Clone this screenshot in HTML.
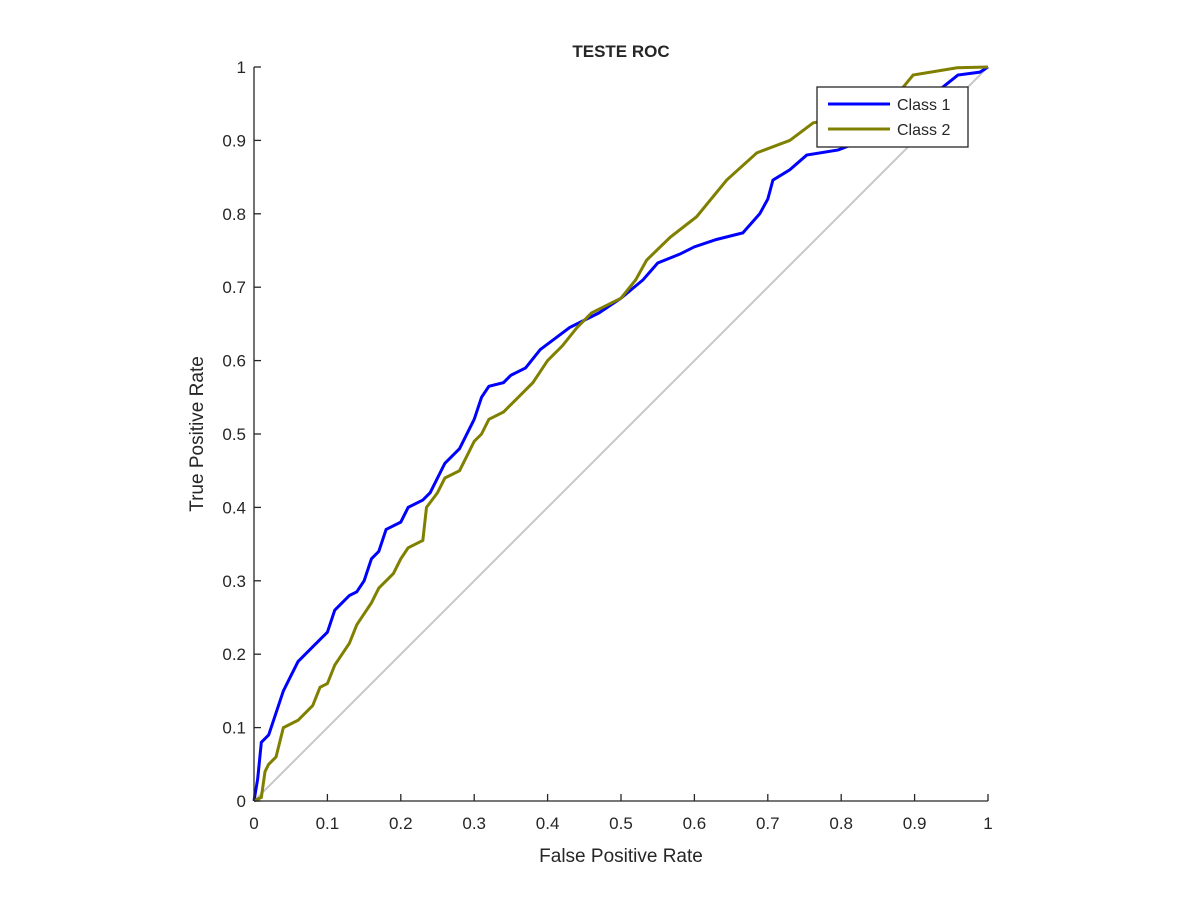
<!DOCTYPE html>
<html><head><meta charset="utf-8"><style>
body{margin:0;background:#fff}
svg text{font-family:"Liberation Sans",Arial,sans-serif;fill:#262626}
</style></head><body>
<svg width="1200" height="900">
<g id="plot"></g>
<text x="621" y="57" font-size="17" font-weight="bold" text-anchor="middle">TESTE ROC</text>
<text x="621" y="862" font-size="19" text-anchor="middle">False Positive Rate</text>
<text x="0" y="0" font-size="19" text-anchor="middle" transform="translate(203,434) rotate(-90)">True Positive Rate</text>
<g>
<rect x="817" y="87" width="151" height="60" fill="#fff" stroke="#262626" stroke-width="1.3"></rect>
<line x1="828" y1="104" x2="890" y2="104" stroke="#0000ff" stroke-width="3"></line>
<text x="897" y="110" font-size="16">Class 1</text>
<line x1="828" y1="129" x2="890" y2="129" stroke="#808000" stroke-width="3"></line>
<text x="897" y="135" font-size="16">Class 2</text>
</g>
</svg>
<script>
const xTicks=[0,0.1,0.2,0.3,0.4,0.5,0.6,0.7,0.8,0.9,1];
const yTicks=[0,0.1,0.2,0.3,0.4,0.5,0.6,0.7,0.8,0.9,1];
const xTickLabels=["0","0.1","0.2","0.3","0.4","0.5","0.6","0.7","0.8","0.9","1"];
const yTickLabels=["0","0.1","0.2","0.3","0.4","0.5","0.6","0.7","0.8","0.9","1"];
const class1Fpr=[0,0.005,0.01,0.02,0.03,0.04,0.05,0.06,0.07,0.08,0.1,0.11,0.13,0.14,0.15,0.16,0.17,0.18,0.2,0.21,0.23,0.24,0.26,0.28,0.3,0.31,0.32,0.34,0.35,0.37,0.39,0.41,0.43,0.47,0.5,0.53,0.55,0.58,0.6,0.63,0.666,0.689,0.7,0.707,0.73,0.753,0.796,0.83,0.87,0.939,0.959,0.989,1];
const class1Tpr=[0,0.03,0.08,0.09,0.12,0.15,0.17,0.19,0.2,0.21,0.23,0.26,0.28,0.285,0.3,0.33,0.34,0.37,0.38,0.4,0.41,0.42,0.46,0.48,0.52,0.55,0.565,0.57,0.58,0.59,0.615,0.63,0.645,0.665,0.685,0.71,0.733,0.745,0.755,0.765,0.774,0.8,0.82,0.846,0.86,0.88,0.887,0.9,0.915,0.973,0.989,0.993,1];
const class2Fpr=[0,0.01,0.015,0.02,0.03,0.035,0.04,0.06,0.07,0.08,0.09,0.1,0.11,0.12,0.13,0.14,0.15,0.16,0.17,0.18,0.19,0.2,0.21,0.23,0.235,0.25,0.26,0.28,0.29,0.3,0.31,0.32,0.34,0.36,0.38,0.4,0.42,0.44,0.46,0.5,0.52,0.535,0.567,0.603,0.644,0.685,0.73,0.762,0.8,0.87,0.898,0.958,1];
const class2Tpr=[0,0.005,0.04,0.05,0.06,0.08,0.1,0.11,0.12,0.13,0.155,0.16,0.185,0.2,0.215,0.24,0.255,0.27,0.29,0.3,0.31,0.33,0.345,0.355,0.4,0.42,0.44,0.45,0.47,0.49,0.5,0.52,0.53,0.55,0.57,0.6,0.62,0.645,0.665,0.685,0.71,0.737,0.768,0.796,0.846,0.883,0.9,0.924,0.93,0.955,0.989,0.999,1];
const X0=254,X1=988,Y0=801,Y1=67;
function sx(v){return X0+(X1-X0)*v;}
function sy(v){return Y0-(Y0-Y1)*v;}
const NS="http://www.w3.org/2000/svg";
const g=document.getElementById('plot');
function mk(t,a){const e=document.createElementNS(NS,t);for(const k in a)e.setAttribute(k,a[k]);g.appendChild(e);return e;}
const diag=mk('line',{x1:sx(0),y1:sy(0),x2:sx(1),y2:sy(1),stroke:'#c8c8c8','stroke-width':2});


function pts(fx,ty){let p=[];for(let i=0;i<fx.length;i++){p.push(sx(fx[i])+','+sy(ty[i]));}return p.join(' ');}
const l1=mk('polyline',{points:pts(class1Fpr,class1Tpr),fill:'none',stroke:'#0000ff','stroke-width':3});


const l2=mk('polyline',{points:pts(class2Fpr,class2Tpr),fill:'none',stroke:'#808000','stroke-width':3});


const xa=mk('line',{x1:X0,y1:Y0,x2:X1,y2:Y0,stroke:'#262626','stroke-width':1.3});


const ya=mk('line',{x1:X0,y1:Y0,x2:X0,y2:Y1,stroke:'#262626','stroke-width':1.3});


xTicks.forEach((v,i)=>{
 mk('line',{x1:sx(v),y1:Y0,x2:sx(v),y2:Y0-7,stroke:'#262626','stroke-width':1.3});
 const t=mk('text',{x:sx(v),y:Y0+28,'font-size':17,'text-anchor':'middle'});t.textContent=xTickLabels[i];
 
 
});
yTicks.forEach((v,i)=>{
 mk('line',{x1:X0,y1:sy(v),x2:X0+7,y2:sy(v),stroke:'#262626','stroke-width':1.3});
 const t=mk('text',{x:X0-8,y:sy(v)+6,'font-size':17,'text-anchor':'end'});t.textContent=yTickLabels[i];
 
 
});
</script>
</body></html>
